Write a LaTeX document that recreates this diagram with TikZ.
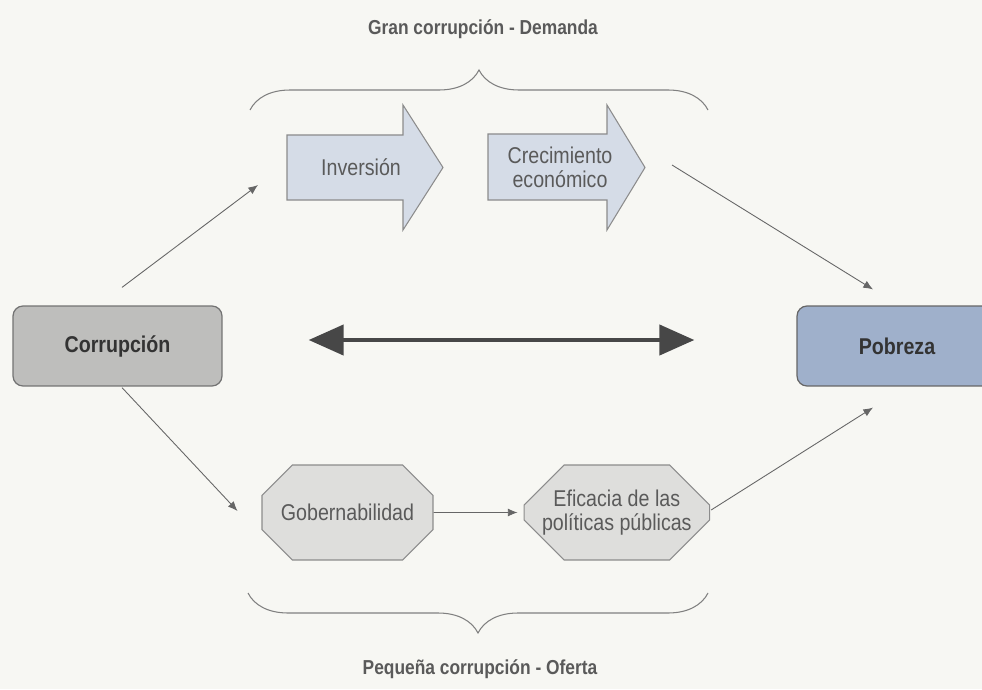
\documentclass[tikz,border=0pt]{standalone}
\usepackage{fontspec}
\setmainfont{Liberation Sans}[FakeStretch=0.86]
\usetikzlibrary{arrows.meta,positioning,shapes.misc,decorations.pathreplacing}
\definecolor{paper}{HTML}{F7F7F3}
\definecolor{corrfill}{HTML}{BEBEBC}
\definecolor{pobfill}{HTML}{9FB0CB}
\definecolor{flowfill}{HTML}{D5DCE7}
\definecolor{stagefill}{HTML}{DEDEDC}
\definecolor{inkgray}{HTML}{5A5A5A}
\definecolor{edgegray}{HTML}{8C8C8C}
\tikzset{
  mainbox/.style={draw=black!55, line width=0.7pt, rounded corners=2mm, minimum height=1.6cm, inner sep=2mm, font=\fontsize{13}{15}\selectfont\bfseries, text=black!80},
  stage/.style={chamfered rectangle, chamfered rectangle xsep=0.36cm, chamfered rectangle ysep=0.44cm, draw=edgegray, fill=stagefill, line width=0.6pt, minimum width=3.42cm, minimum height=1.9cm, inner sep=0pt, align=center, font=\fontsize{13}{13.5}\selectfont, text=inkgray},
  flow/.style={draw=edgegray, fill=flowfill, line width=0.6pt},
  label/.style={align=center, font=\fontsize{13}{13.5}\selectfont, text=inkgray},
  heading/.style={font=\fontsize{11.5}{13}\selectfont\bfseries, text=inkgray},
  link/.style={-{Latex[length=5.5pt,width=4.5pt]}, draw=black!60, line width=0.5pt},
  mutual/.style={{Triangle[length=20pt,width=17pt]}-{Triangle[length=20pt,width=17pt]}, draw=black!72, line width=2.8pt},
  curly/.style={decorate, decoration={brace, amplitude=0.8cm}, draw=black!50, line width=0.6pt},
}

\begin{document}
\begin{tikzpicture}[x=0.02cm, y=-0.02cm]
  \useasboundingbox (0,0) rectangle (982,689);
  \fill[paper] (0,0) rectangle (982,689);
  \clip (0,0) rectangle (982,689);

  % end boxes
  \node[mainbox, fill=corrfill, minimum width=4.18cm] (corr) at (117.5,346) {Corrupción};
  \node[mainbox, fill=pobfill, draw=black!60, minimum width=4cm] (pob) at (897,346) {Pobreza};
  \draw[mutual] ([xshift=1.72cm, yshift=0.12cm]corr.east) -- ([xshift=-2.04cm, yshift=0.12cm]pob.west);

  % demand side
  \draw[flow] (287,135) -| (403,105) -- (443,167.5) -- (403,230) |- (287,200) -- cycle;
  \draw[flow] (488,134) -| (607,105) -- (645,167.5) -- (607,230) |- (488,200) -- cycle;
  \coordinate (invtail) at (287,167.5);
  \coordinate (crectip) at (645,167.5);
  \node[label] (inv) at (361,167.5) {Inversión};
  \node[label] (crec) at (560,167.5) {Crecimiento\\económico};

  % supply side
  \node[stage] (gob) at (347.5,512.5) {Gobernabilidad};
  \node[stage, minimum width=3.68cm, right=1.8cm of gob] (efi) {Eficacia de las\\políticas públicas};
  \draw[link, shorten >=0.12cm] (gob) -- (efi);

  % connectors
  \draw[link] ([shift={(4.5,-18)}]corr.north) -- ([shift={(-29,17.5)}]invtail);
  \draw[link] ([shift={(27,-2.5)}]crectip) -- ([shift={(-24,-16)}]pob.north);
  \draw[link] ([shift={(4.5,1)}]corr.south) -- ([shift={(-24,-1.5)}]gob.west);
  \draw[link] ([shift={(1,-2.5)}]efi.east) -- ([shift={(-24,21)}]pob.south);

  % braces and headings
  \draw[curly] (250,110) -- (708,110);
  \draw[curly] (708,593) -- (248,593);
  \node[heading] (demanda) at (483,29) {Gran corrupción - Demanda};
  \node[heading] (oferta) at (480,669) {Pequeña corrupción - Oferta};
\end{tikzpicture}
\end{document}
